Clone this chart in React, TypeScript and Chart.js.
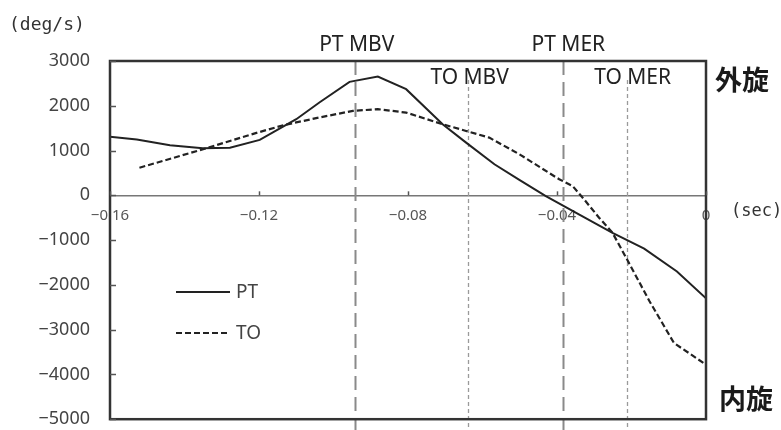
import React, { useEffect, useRef } from 'react';
import { Chart, registerables } from 'chart.js';

Chart.register(...registerables);

// PT angular velocity (solid)
const ptTime = [-0.16, -0.1528, -0.1439, -0.1351, -0.1278, -0.1198, -0.11, -0.1037, -0.0957, -0.0881, -0.0805, -0.0707, -0.0644, -0.0568, -0.05, -0.043, -0.034, -0.0251, -0.0166, -0.0078, 0];
const ptVel = [1310, 1245, 1119, 1051, 1065, 1237, 1700, 2080, 2535, 2653, 2371, 1588, 1177, 694, 340, -16, -430, -837, -1190, -1700, -2300];

// TO angular velocity (dashed)
const toTime = [-0.1521, -0.135, -0.1225, -0.1135, -0.1037, -0.0948, -0.0881, -0.0805, -0.0707, -0.0644, -0.0582, -0.0501, -0.0394, -0.0358, -0.0331, -0.0287, -0.0251, -0.0214, -0.0152, -0.0086, 0];
const toVel = [617, 1029, 1350, 1566, 1740, 1886, 1924, 1848, 1588, 1438, 1289, 917, 358, 208, -53, -500, -837, -1400, -2360, -3298, -3781];

const seriesNames = ['PT', 'TO'];

const xTicks = [-0.16, -0.12, -0.08, -0.04, 0];
const yTicks = [3000, 2000, 1000, 0, -1000, -2000, -3000, -4000, -5000];

const markerTimes = [-0.0943, -0.064, -0.0383, -0.0213];
const markerLabels = ['PT MBV', 'TO MBV', 'PT MER', 'TO MER'];
const markerKinds = ['PT', 'TO', 'PT', 'TO'];

const yUnit = '(deg/s)';
const xUnit = '(sec)';
const topSideLabel = '外旋';
const bottomSideLabel = '内旋';

const minus = '\u2212';

const decorPlugin = {
  id: 'decor',
  beforeDraw(chart: any) {
    const { ctx, width, height } = chart;
    ctx.save();
    ctx.fillStyle = '#ffffff';
    ctx.fillRect(0, 0, width, height);
    ctx.restore();
  },
  beforeDatasetsDraw(chart: any) {
    const { ctx, chartArea, scales } = chart;
    const x = scales.x;
    ctx.save();
    markerTimes.forEach((t, i) => {
      const px = Math.round(x.getPixelForValue(t)) + 0.5;
      ctx.beginPath();
      if (markerKinds[i] === 'PT') {
        ctx.strokeStyle = '#8a8a8a';
        ctx.lineWidth = 2;
        ctx.setLineDash([14, 7]);
        ctx.moveTo(px, chartArea.top);
      } else {
        ctx.strokeStyle = '#9a9a9a';
        ctx.lineWidth = 1.3;
        ctx.setLineDash([4, 3]);
        ctx.moveTo(px, chartArea.top + 19);
      }
      ctx.lineTo(px, chart.height);
      ctx.stroke();
    });
    ctx.restore();
  },
  afterDatasetsDraw(chart: any) {
    const { ctx, chartArea, scales } = chart;
    const x = scales.x;
    const y = scales.y;
    const { left, right, top, bottom } = chartArea;
    ctx.save();
    // frame
    ctx.setLineDash([]);
    ctx.strokeStyle = '#333333';
    ctx.lineWidth = 2.5;
    ctx.strokeRect(left, top, right - left, bottom - top);
    // inward y ticks
    ctx.lineWidth = 1.5;
    ctx.strokeStyle = '#555555';
    yTicks.forEach((v) => {
      const py = Math.round(y.getPixelForValue(v)) + 0.5;
      ctx.beginPath();
      ctx.moveTo(left, py);
      ctx.lineTo(left + 6, py);
      ctx.stroke();
    });
    // upward x ticks on zero line
    const y0 = y.getPixelForValue(0);
    xTicks.forEach((v) => {
      const px = Math.round(x.getPixelForValue(v)) + 0.5;
      ctx.beginPath();
      ctx.moveTo(px, y0);
      ctx.lineTo(px, y0 - 4);
      ctx.stroke();
    });

    // marker labels
    ctx.fillStyle = '#222222';
    ctx.font = '21px "Noto Sans", sans-serif';
    ctx.textAlign = 'center';
    ctx.textBaseline = 'middle';
    const labelOffsets = [2, 2, 5, 6];
    markerTimes.forEach((t, i) => {
      const px = x.getPixelForValue(t) + labelOffsets[i];
      const py = markerKinds[i] === 'PT' ? top - 16 : top + 17;
      ctx.fillText(markerLabels[i], px, py);
    });

    // units
    ctx.fillStyle = '#333333';
    ctx.font = '18px "DejaVu Sans Mono", monospace';
    ctx.textAlign = 'left';
    ctx.fillText(yUnit, 9, 25);
    ctx.font = '17px "DejaVu Sans Mono", monospace';
    ctx.fillText(xUnit, 731, y0 + 16);

    // side labels
    ctx.fillStyle = '#1a1a1a';
    ctx.font = 'bold 27px "Noto Sans CJK JP", sans-serif';
    ctx.fillText(topSideLabel, 715, 80);
    ctx.fillText(bottomSideLabel, 719, 399);

    // legend
    const legY = [292, 333];
    seriesNames.forEach((name, i) => {
      ctx.beginPath();
      ctx.strokeStyle = '#222222';
      ctx.lineWidth = i === 0 ? 2 : 2.2;
      ctx.setLineDash(i === 0 ? [] : [6, 3]);
      ctx.moveTo(176, legY[i]);
      ctx.lineTo(230, legY[i]);
      ctx.stroke();
      ctx.setLineDash([]);
      ctx.fillStyle = '#444444';
      ctx.font = '19px "Noto Sans", sans-serif';
      ctx.textAlign = 'left';
      ctx.fillText(name, 236, legY[i] + 1);
    });
    ctx.restore();
  },
};

export default function App() {
  const ref = useRef<HTMLCanvasElement | null>(null);
  useEffect(() => {
    if (!ref.current) return;
    const chart = new Chart(ref.current, {
      type: 'scatter',
      data: {
        datasets: [
          {
            label: seriesNames[0],
            data: ptTime.map((t, i) => ({ x: t, y: ptVel[i] })),
            showLine: true,
            borderColor: '#222222',
            borderWidth: 2,
            pointRadius: 0,
            tension: 0,
          },
          {
            label: seriesNames[1],
            data: toTime.map((t, i) => ({ x: t, y: toVel[i] })),
            showLine: true,
            borderColor: '#222222',
            borderWidth: 2.2,
            borderDash: [6, 3],
            pointRadius: 0,
            tension: 0,
          },
        ],
      },
      options: {
        animation: false,
        responsive: false,
        devicePixelRatio: 1,
        layout: { padding: { left: 0, top: 61, right: 75, bottom: 10 } },
        plugins: { legend: { display: false }, tooltip: { enabled: false } },
        scales: {
          x: {
            type: 'linear',
            min: -0.16,
            max: 0,
            position: { y: 0 } as any,
            afterBuildTicks: (s: any) => {
              s.ticks = xTicks.map((v) => ({ value: v }));
            },
            ticks: {
              color: '#555555',
              font: { family: '"Noto Sans", sans-serif', size: 15 },
              padding: 11,
              maxRotation: 0,
              autoSkip: false,
              callback: (v: any) => (v === 0 ? '0' : minus + Math.abs(Number(v)).toFixed(2)),
            },
            grid: { display: false, drawTicks: false },
            border: { display: true, color: '#777777', width: 1.5 },
          },
          y: {
            type: 'linear',
            min: -5000,
            max: 3000,
            afterBuildTicks: (s: any) => {
              s.ticks = yTicks.map((v) => ({ value: v }));
            },
            afterFit: (s: any) => {
              s.width = 110;
            },
            ticks: {
              color: '#444444',
              font: { family: '"Noto Sans", sans-serif', size: 18 },
              padding: 0,
              callback: (v: any) => (Number(v) < 0 ? minus + Math.abs(Number(v)) : String(v)),
            },
            grid: {
              display: true,
              drawOnChartArea: false,
              drawTicks: true,
              tickLength: 20,
              color: 'rgba(0,0,0,0)',
            },
            border: { display: false },
          },
        },
      },
      plugins: [decorPlugin],
    });
    return () => chart.destroy();
  }, []);
  return (
    <div style={{ position: 'absolute', left: 0, top: 0, width: 781, height: 430, background: '#fff' }}>
      <canvas ref={ref} width={781} height={430} style={{ display: 'block' }} />
    </div>
  );
}
